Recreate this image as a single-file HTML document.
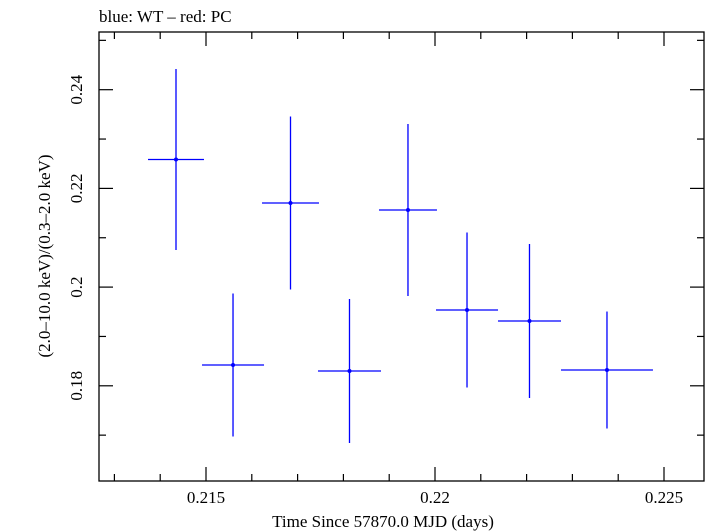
<!DOCTYPE html>
<html><head><meta charset="utf-8"><style>body{margin:0;background:#fff}svg{display:block}text{font-family:"Liberation Serif",serif;fill:#000}</style></head>
<body>
<svg id="chart" width="705" height="532" xmlns="http://www.w3.org/2000/svg">
<text x="99" y="22" font-size="17">blue: WT – red: PC</text>
<rect x="99" y="32" width="605" height="449" fill="none" stroke="#000" stroke-width="1.3"/>
<g id="ticks"></g>
<g id="marks"></g>
<text x="383" y="527" font-size="17" text-anchor="middle">Time Since 57870.0 MJD (days)</text>
<text transform="translate(50,256) rotate(-90)" font-size="17" text-anchor="middle">(2.0–10.0 keV)/(0.3–2.0 keV)</text>
</svg>
<script>
const times=[0.214345,0.215590,0.216845,0.218133,0.219410,0.220699,0.222063,0.223755];
const timeErr=[0.000611,0.000677,0.000622,0.000688,0.000633,0.000677,0.000688,0.001004];
const ratios=[0.22586,0.18421,0.21704,0.18300,0.21562,0.19536,0.19313,0.18320];
const ratioErr=[0.01834,0.01449,0.01753,0.01459,0.01743,0.0157,0.0156,0.01185];
const xTicks=[0.215,0.22,0.225];
const xTickLabels=["0.215","0.22","0.225"];
const yTicks=[0.18,0.2,0.22,0.24];
const yTickLabels=["0.18","0.2","0.22","0.24"];
const L=99,R=704,T=32,B=481;
function xs(v){return 206+(v-0.215)*45800;}
function ys(v){return 89.7-(v-0.24)*4935;}
const NS="http://www.w3.org/2000/svg";
function mk(tag,attrs,parent){const e=document.createElementNS(NS,tag);for(const k in attrs)e.setAttribute(k,attrs[k]);parent.appendChild(e);return e;}
const tg=document.getElementById('ticks');
for(let i=0;i<=13;i++){const v=0.213+i*0.001;const x=xs(v);if(x<L||x>R)continue;const major=Math.abs(v*200-Math.round(v*200))<1e-6;const len=major?14:7;
const a=mk('line',{x1:x,x2:x,y1:B,y2:B-len,stroke:'#000','stroke-width':1.2},tg);
const b=mk('line',{x1:x,x2:x,y1:T,y2:T+len,stroke:'#000','stroke-width':1.2},tg);}
for(let i=0;i<=10;i++){const v=0.16+i*0.01;const y=ys(v);if(y<T||y>B)continue;const major=(i%2===0);const len=major?14:7;
const a=mk('line',{x1:L,x2:L+len,y1:y,y2:y,stroke:'#000','stroke-width':1.2},tg);
const b=mk('line',{x1:R,x2:R-len,y1:y,y2:y,stroke:'#000','stroke-width':1.2},tg);}
xTicks.forEach((v,i)=>{const t=mk('text',{x:xs(v),y:503,'font-size':17,'text-anchor':'middle'},tg);t.textContent=xTickLabels[i];
});
yTicks.forEach((v,i)=>{const t=mk('text',{transform:`translate(82,${ys(v)}) rotate(-90)`,'font-size':17,'text-anchor':'middle'},tg);t.textContent=yTickLabels[i];
});
const mg=document.getElementById('marks');
times.forEach((t,i)=>{const g=mk('g',{},mg);
const x=xs(t),y=ys(ratios[i]);
mk('line',{x1:xs(t-timeErr[i]),x2:xs(t+timeErr[i]),y1:y,y2:y,stroke:'#0000ff','stroke-width':1.3},g);
mk('line',{x1:x,x2:x,y1:ys(ratios[i]-ratioErr[i]),y2:ys(ratios[i]+ratioErr[i]),stroke:'#0000ff','stroke-width':1.3},g);
mk('circle',{cx:x,cy:y,r:2,fill:'#0000ff'},g);});
</script>
</body></html>
